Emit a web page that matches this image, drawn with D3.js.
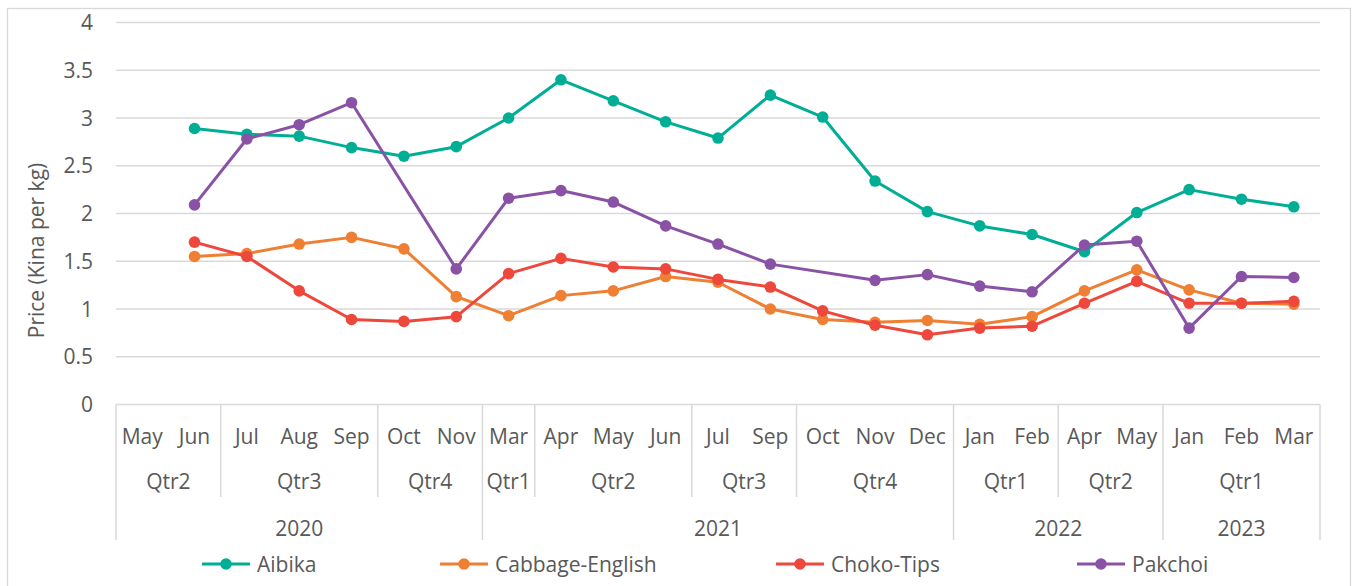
<!DOCTYPE html>
<html>
<head>
<meta charset="utf-8">
<script src="https://cdn.jsdelivr.net/npm/d3@7"></script>
<style>
  html, body { margin: 0; padding: 0; background: #fff; }
  svg { display: block; }
  text { font-family: "Open Sans", "Noto Sans", sans-serif; fill: #595959; }
</style>
</head>
<body>
<svg id="chart" width="1354" height="586"></svg>
<script>
// ---- Data ----
const months   = ["May","Jun","Jul","Aug","Sep","Oct","Nov","Mar","Apr","May","Jun","Jul","Sep","Oct","Nov","Dec","Jan","Feb","Apr","May","Jan","Feb","Mar"];
const quarters = ["Qtr2","Qtr2","Qtr3","Qtr3","Qtr3","Qtr4","Qtr4","Qtr1","Qtr2","Qtr2","Qtr2","Qtr3","Qtr3","Qtr4","Qtr4","Qtr4","Qtr1","Qtr1","Qtr2","Qtr2","Qtr1","Qtr1","Qtr1"];
const years    = ["2020","2020","2020","2020","2020","2020","2020","2021","2021","2021","2021","2021","2021","2021","2021","2021","2022","2022","2022","2022","2023","2023","2023"];

const aibika   = [null,2.89,2.83,2.81,2.69,2.60,2.70,3.00,3.40,3.18,2.96,2.79,3.24,3.01,2.34,2.02,1.87,1.78,1.60,2.01,2.25,2.15,2.07];
const cabbage  = [null,1.55,1.58,1.68,1.75,1.63,1.13,0.93,1.14,1.19,1.34,1.28,1.00,0.89,0.86,0.88,0.84,0.92,1.19,1.41,1.20,1.06,1.05];
const choko    = [null,1.70,1.55,1.19,0.89,0.87,0.92,1.37,1.53,1.44,1.42,1.31,1.23,0.98,0.83,0.73,0.80,0.82,1.06,1.29,1.06,1.06,1.08];
const pakchoi  = [null,2.09,2.78,2.93,3.16,null,1.42,2.16,2.24,2.12,1.87,1.68,1.47,null,1.30,1.36,1.24,1.18,1.67,1.71,0.80,1.34,1.33];

const seriesNames  = ["Aibika","Cabbage-English","Choko-Tips","Pakchoi"];
const seriesColors = ["#00AE96","#EE7F33","#EE473C","#8A52A5"];
const yTicks = [0,0.5,1,1.5,2,2.5,3,3.5,4];
const yLabel = "Price (Kina per kg)";

// ---- Layout ----
const svg = d3.select("#chart");
const plot = { left: 116, right: 1320, top: 22.5, bottom: 404.5 };
const FS = 21;

// frame
svg.append("rect").attr("x", 7.5).attr("y", 8.5).attr("width", 1343).attr("height", 590)
  .attr("fill", "#fff").attr("stroke", "#d9d9d9").attr("stroke-width", 1.3);

const x = d3.scaleBand().domain(d3.range(months.length)).range([plot.left, plot.right]).paddingInner(0).paddingOuter(0);
const y = d3.scaleLinear().domain([0, 4]).range([plot.bottom, plot.top]);
const cx = i => x(i) + x.bandwidth() / 2;

// gridlines
svg.append("g").selectAll("line").data(yTicks.filter(t => t > 0)).join("line")
  .attr("x1", plot.left).attr("x2", plot.right)
  .attr("y1", d => y(d)).attr("y2", d => y(d))
  .attr("stroke", "#d9d9d9").attr("stroke-width", 1.5);

// y axis labels
svg.append("g").selectAll("text").data(yTicks).join("text")
  .attr("x", 93).attr("y", d => y(d)).attr("dy", "0.36em")
  .attr("text-anchor", "end").attr("font-size", FS)
  .text(d => String(d));

// y axis title
svg.append("text")
  .attr("transform", `translate(36,${(plot.top + plot.bottom) / 2 + 37}) rotate(-90)`)
  .attr("text-anchor", "middle").attr("dy", "0.36em").attr("font-size", FS)
  .text(yLabel);

// x axis line
svg.append("line").attr("x1", plot.left).attr("x2", plot.right)
  .attr("y1", plot.bottom).attr("y2", plot.bottom)
  .attr("stroke", "#d9d9d9").attr("stroke-width", 1.5);

// group helper
function groups(keyFn) {
  const out = [];
  months.forEach((m, i) => {
    const k = keyFn(i);
    if (out.length && out[out.length - 1].key === k) out[out.length - 1].end = i;
    else out.push({ key: k, start: i, end: i });
  });
  return out;
}
const qGroups = groups(i => years[i] + "|" + quarters[i]);
const yGroups = groups(i => years[i]);

const rowMonth = 436, rowQtr = 481, rowYear = 528;
const qLineBottom = 497, yLineBottom = 540;

// month labels
svg.append("g").selectAll("text").data(months).join("text")
  .attr("x", (d, i) => cx(i)).attr("y", rowMonth).attr("dy", "0.36em")
  .attr("text-anchor", "middle").attr("font-size", FS).text(d => d);

// quarter labels
svg.append("g").selectAll("text").data(qGroups).join("text")
  .attr("x", g => (x(g.start) + x(g.end) + x.bandwidth()) / 2).attr("y", rowQtr).attr("dy", "0.36em")
  .attr("text-anchor", "middle").attr("font-size", FS).text(g => g.key.split("|")[1]);

// year labels
svg.append("g").selectAll("text").data(yGroups).join("text")
  .attr("x", g => (x(g.start) + x(g.end) + x.bandwidth()) / 2).attr("y", rowYear).attr("dy", "0.36em")
  .attr("text-anchor", "middle").attr("font-size", FS).text(g => g.key);

// separators
const yearBounds = new Set(yGroups.map(g => g.start));
const sepG = svg.append("g").attr("stroke", "#d9d9d9").attr("stroke-width", 1.5);
qGroups.forEach(g => {
  const isYear = yearBounds.has(g.start);
  sepG.append("line").attr("x1", x(g.start)).attr("x2", x(g.start))
    .attr("y1", plot.bottom).attr("y2", isYear ? yLineBottom : qLineBottom);
});
sepG.append("line").attr("x1", plot.right).attr("x2", plot.right)
  .attr("y1", plot.bottom).attr("y2", yLineBottom);

// series
const allSeries = [aibika, cabbage, choko, pakchoi];
const line = d3.line().x(d => cx(d.i)).y(d => y(d.v));
allSeries.forEach((vals, si) => {
  const pts = vals.map((v, i) => ({ i, v })).filter(d => d.v !== null);
  const g = svg.append("g");
  g.append("path").attr("d", line(pts)).attr("fill", "none")
    .attr("stroke", seriesColors[si]).attr("stroke-width", 3).attr("stroke-linejoin", "round");
  g.selectAll("circle").data(pts).join("circle")
    .attr("cx", d => cx(d.i)).attr("cy", d => y(d.v)).attr("r", 5.8)
    .attr("fill", seriesColors[si]);
});

// legend
const legendStarts = [202, 440, 776, 1077];
const legendY = 564;
seriesNames.forEach((name, si) => {
  const g = svg.append("g").attr("transform", `translate(${legendStarts[si]},${legendY})`);
  g.append("line").attr("x1", 0).attr("x2", 48).attr("y1", 0).attr("y2", 0)
    .attr("stroke", seriesColors[si]).attr("stroke-width", 3);
  g.append("circle").attr("cx", 24).attr("cy", 0).attr("r", 5.8).attr("fill", seriesColors[si]);
  g.append("text").attr("x", 55).attr("y", 0).attr("dy", "0.36em").attr("font-size", FS).text(name);
});
</script>
</body>
</html>
